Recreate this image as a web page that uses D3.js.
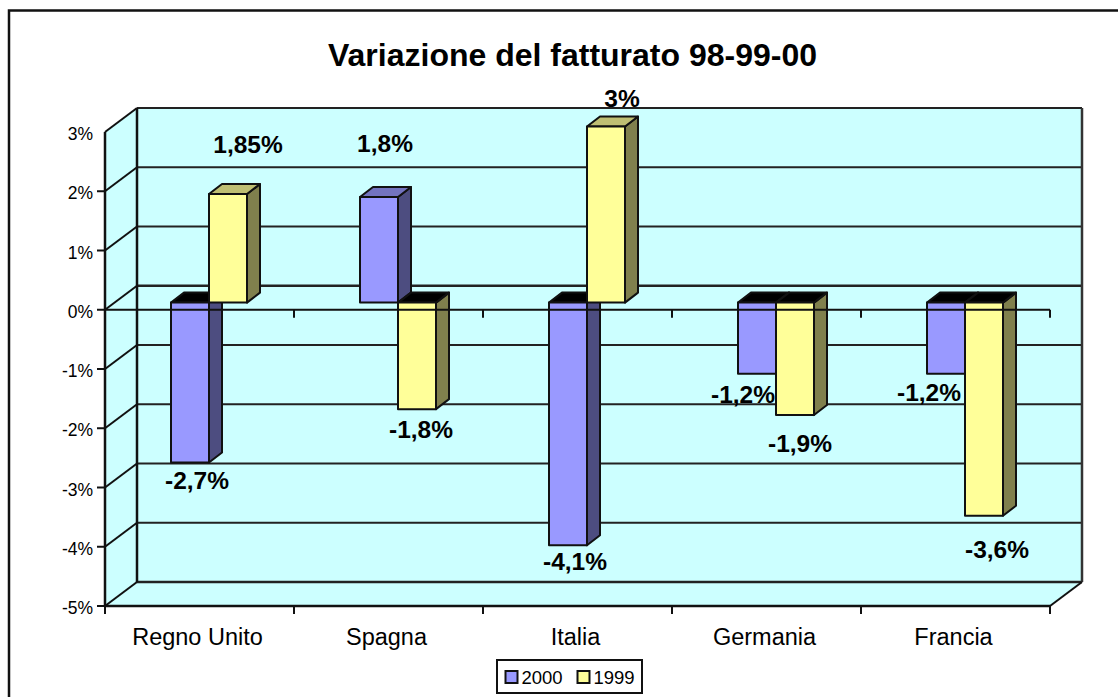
<!DOCTYPE html>
<html><head><meta charset="utf-8">
<script src="https://cdn.jsdelivr.net/npm/d3@7/dist/d3.min.js"></script>
<style>html,body{margin:0;background:#fff}svg{display:block}text{font-family:"Liberation Sans",Arial,sans-serif;fill:#000}</style>
</head><body><div id="c"></div>
<script>
const categories = ["Regno Unito","Spagna","Italia","Germania","Francia"];
const values2000 = [-2.7,1.8,-4.1,-1.2,-1.2];
const values1999 = [1.85,-1.8,3,-1.9,-3.6];
const labels2000 = ["-2,7%","1,8%","-4,1%","-1,2%","-1,2%"];
const labels1999 = ["1,85%","-1,8%","3%","-1,9%","-3,6%"];
const yTicks = [-5,-4,-3,-2,-1,0,1,2,3];
const seriesNames = ["2000","1999"];
const title = "Variazione del fatturato 98-99-00";

const W=1118,H=697;
const svg=d3.select("#c").append("svg").attr("width",W).attr("height",H);
const x=d3.scaleBand().domain(categories).range([105,1050]);
const y=d3.scaleLinear().domain([-5,3]).range([606,132]);
const dx=32,dy=-24;                     // wall depth
const barY=d3.scaleLinear().domain([-5,0,3]).range([598.6,302.6,126.5]); // bar plane
const bx=d3.scaleBand().domain(seriesNames).range([0,76]);
const bOff=66, bdx=13, bdy=-10;
const colors={ "2000":{front:"#9999ff",side:"#4d4d80",top:"#7373bf"}, "1999":{front:"#ffff99",side:"#80804d",top:"#bfbf73"} };
const line=(a,b,c,d,w=2,col="#111")=>svg.append("line").attr("x1",a).attr("y1",b).attr("x2",c).attr("y2",d).attr("stroke",col).attr("stroke-width",w);

// outer frame (runs off the right and bottom of the picture)
svg.append("path").attr("d",`M9,${H}V10.5H${W}`).attr("fill","none").attr("stroke","#111").attr("stroke-width",2.5);

svg.append("text").attr("x",572.5).attr("y",65.5).attr("text-anchor","middle").attr("font-weight","bold").attr("font-size",32).text(title);

// walls
const [x0,x1]=x.range(), yB=y(-5), yT=y(3);
svg.append("path").attr("fill","#ccffff")
 .attr("d",`M${x0},${yB}V${yT}L${x0+dx},${yT+dy}H${x1+dx}V${yB+dy}L${x1},${yB}Z`);
yTicks.forEach(t=>{
  const w=(t===0||t===-5)?2.5:2;
  line(x0+dx,y(t)+dy,x1+dx,y(t)+dy,w,"#222");
  line(x0,y(t),x0+dx,y(t)+dy,2);
});
line(x0+dx,yT+dy,x0+dx,yB+dy,2.5);
line(x1+dx,yT+dy,x1+dx,yB+dy,2.5,"#333");
line(x1,yB,x1+dx,yB+dy,2);
line(x0,yT,x0,yB,2.5);
line(x0,yB,x1,yB,2.5);

// bars
function bar(cat,val,name){
  const c=colors[name];
  const L=x(cat)+bOff+bx(name), R=L+bx.bandwidth();
  const y0=barY(0), yv=barY(val), t=Math.min(y0,yv), b=Math.max(y0,yv);
  const g=svg.append("g").attr("stroke","#111").attr("stroke-width",2).attr("stroke-linejoin","round");
  g.append("path").attr("fill",c.side).attr("d",`M${R},${t}L${R+bdx},${t+bdy}V${b+bdy}L${R},${b}Z`);
  g.append("path").attr("fill",val<0?"#000":c.top).attr("d",`M${L},${t}L${L+bdx},${t+bdy}H${R+bdx}L${R},${t}Z`);
  g.append("rect").attr("x",L).attr("y",t).attr("width",R-L).attr("height",b-t).attr("fill",c.front);
}
categories.forEach((c,i)=>{bar(c,values2000[i],"2000");bar(c,values1999[i],"1999");});

// zero axis and ticks
line(x0,y(0),x1,y(0),2);
[...categories.map(c=>x(c)),x1].forEach((tx,i)=>{
  if(i>0) line(tx,y(0),tx,y(0)+8,2);
  line(tx,yB,tx,yB+8,2);
});
yTicks.forEach(t=>{
  if(t<3) line(x0-8,y(t),x0,y(t),2);
  svg.append("text").attr("x",93).attr("y",y(t)+8).attr("text-anchor","end").attr("font-size",17.5).text(t+"%");
});
categories.forEach(c=>svg.append("text").attr("x",x(c)+x.bandwidth()/2-2).attr("y",645).attr("text-anchor","middle").attr("font-size",23.5).text(c));

// data labels
const labelShift={ "2000":[[7,27],[6,-45],[7,25],[-14,29],[-17,27]], "1999":[[20,-41],[4,29],[16,-20],[5,37],[13,42]] };
function dataLabel(cat,i,val,txt,name){
  const s=labelShift[name][i];
  const cx=x(cat)+bOff+bx(name)+bx.bandwidth()/2;
  svg.append("text").attr("x",cx+s[0]).attr("y",barY(val)+s[1]).attr("text-anchor","middle")
    .attr("font-weight","bold").attr("font-size",24.5).text(txt);
}
categories.forEach((c,i)=>{dataLabel(c,i,values2000[i],labels2000[i],"2000");dataLabel(c,i,values1999[i],labels1999[i],"1999");});

// legend
const lg=svg.append("g").attr("transform","translate(497,660)");
lg.append("rect").attr("width",145).attr("height",33).attr("fill","#fff").attr("stroke","#111").attr("stroke-width",2);
seriesNames.forEach((n,i)=>{
  const ox=8.5+i*72;
  lg.append("rect").attr("x",ox).attr("y",11).attr("width",12).attr("height",12).attr("fill",colors[n].front).attr("stroke","#111").attr("stroke-width",2);
  lg.append("text").attr("x",ox+16).attr("y",24).attr("font-size",18.5).text(n);
});
</script></body></html>
